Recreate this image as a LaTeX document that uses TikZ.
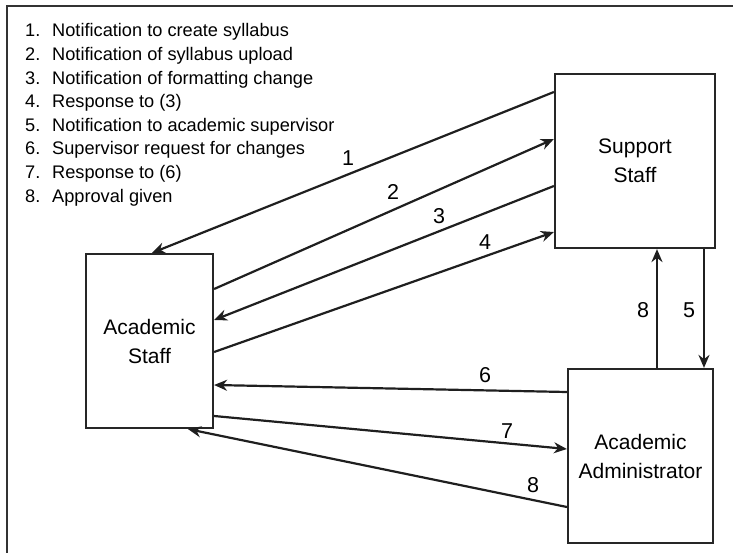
\documentclass[tikz,border=0pt]{standalone}
\usepackage{fontspec}
\setmainfont{Liberation Sans}
\usetikzlibrary{arrows.meta}
\begin{document}
\begin{tikzpicture}[x=1pt,y=-1pt,
  box/.style={draw=black!85,line width=2.2pt,minimum width=#1,inner sep=0pt,align=center,font=\fontsize{21}{29}\selectfont},
  conn/.style={draw=black!88,line width=2.2pt,-{Stealth[length=13pt,width=11pt]}},
  lbl/.style={font=\fontsize{21.5}{24}\selectfont,inner sep=0pt},
  leg/.style={anchor=base west,inner sep=0pt,font=\fontsize{18.2}{20}\selectfont}]
\useasboundingbox (0,0) rectangle (733,553);
\draw[line width=2.2pt,black!80] (7,553) -- (7,6) -- (733,6);
% legend
\node[leg] (g1) at (25,37) {\makebox[27pt][l]{1.}Notification to create syllabus};
\node[leg] (g2) at (25,60.6) {\makebox[27pt][l]{2.}Notification of syllabus upload};
\node[leg] (g3) at (25,84.2) {\makebox[27pt][l]{3.}Notification of formatting change};
\node[leg] (g4) at (25,107.8) {\makebox[27pt][l]{4.}Response to (3)};
\node[leg] (g5) at (25,131.4) {\makebox[27pt][l]{5.}Notification to academic supervisor};
\node[leg] (g6) at (25,155) {\makebox[27pt][l]{6.}Supervisor request for changes};
\node[leg] (g7) at (25,178.6) {\makebox[27pt][l]{7.}Response to (6)};
\node[leg] (g8) at (25,202.2) {\makebox[27pt][l]{8.}Approval given};
% boxes
\node[box=160pt,minimum height=174pt] (ss) at (635,161) {Support\\Staff};
\node[box=127pt,minimum height=174pt] (as) at (149.5,341) {Academic\\Staff};
\node[box=145pt,minimum height=174pt] (aa) at (640.5,456) {Academic\\Administrator};
% connectors
\draw[conn] (ss.west |- 0,92) -- (as.north -| 152,0);
\draw[conn] (as.east |- 0,289) -- (ss.west |- 0,139);
\draw[conn] (ss.west |- 0,186) -- (as.east |- 0,320);
\draw[conn] (as.east |- 0,352) -- (ss.west |- 0,232);
\draw[conn] (ss.south -| 704,0) -- (aa.north -| 704,0);
\draw[conn] (aa.north -| 657,0) -- (ss.south -| 657,0);
\draw[conn] (aa.west |- 0,392) -- (as.east |- 0,385);
\draw[conn] (as.east |- 0,416) -- (aa.west |- 0,449);
\draw[conn] (aa.west |- 0,507) -- (as.south -| 188,0);
% labels
\node[lbl] (n1) at (348,158) {1};
\node[lbl] (n2) at (393,192) {2};
\node[lbl] (n3) at (439,216) {3};
\node[lbl] (n4) at (485,242) {4};
\node[lbl] (n8a) at (643,310) {8};
\node[lbl] (n5) at (689,310) {5};
\node[lbl] (n6) at (485,375) {6};
\node[lbl] (n7) at (507,431) {7};
\node[lbl] (n8b) at (533,485) {8};
\end{tikzpicture}
\end{document}
